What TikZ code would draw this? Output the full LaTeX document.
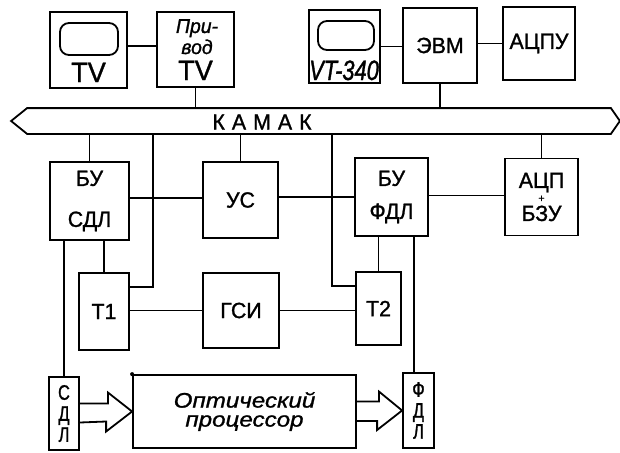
\documentclass[tikz,border=0pt]{standalone}
\usepackage{fontspec}
\setmainfont{Liberation Sans}[FakeStretch=0.97,FakeBold=1.2]
\newfontfamily\narrowfont{Liberation Sans}[FakeStretch=0.78,FakeBold=1.2]
\newfontfamily\widefont{Liberation Sans}[FakeStretch=1.15,FakeBold=1.2]
\begin{document}
\begin{tikzpicture}[x=1pt,y=-1pt,line width=1.8pt,
  blk/.style 2 args={draw,minimum width=#1,minimum height=#2,inner sep=0pt,
    align=center,font=\fontsize{22}{23}\selectfont},
  bigtxt/.style={font=\fontsize{28}{28}\selectfont},
  vtxt/.style={font=\narrowfont\fontsize{21}{21}\selectfont}]
\useasboundingbox (0,0) rectangle (620,452);

% upper row
\node[blk={77}{76}] (tv) at (88.5,50) {};
\draw[rounded corners=9pt] (60,23) rectangle (118,55);
\node[bigtxt,anchor=base] (tvname) at (88.5,82) {TV};
\node[blk={77}{75}] (priv) at (195.5,49.5) {};
\node[font=\itshape\fontsize{20}{20}\selectfont,anchor=base,align=center]
  (privname) at (197,54) {При-\\[1pt]вод};
\node[bigtxt,anchor=base] (privtv) at (195.5,80) {TV};
\node[blk={71}{73}] (vt) at (344.5,46.5) {};
\draw[rounded corners=9pt] (318,21) rectangle (374,50);
\node[font=\narrowfont\itshape\fontsize{28}{28}\selectfont,anchor=base]
  (vtname) at (344,80) {VT-340};
\node[blk={74}{75}] (evm) at (440,45.5) {ЭВМ};
\node[blk={72}{73}] (acpu) at (539,43.5) {АЦПУ};

% KAMAK bus
\node[minimum width=582,minimum height=24,inner sep=0pt] (bus) at (319,121) {};
\draw (bus.north west) -- (bus.north east) -- ([xshift=9pt]bus.east)
  -- (bus.south east) -- (bus.south west) -- ([xshift=-16pt]bus.west) -- cycle;
\node[font=\fontsize{22}{22}\selectfont] (kamak) at (262,122)
  {К\kern7pt А\kern7pt М\kern7pt А\kern7pt К};
\coordinate (tapA) at (153,133);
\coordinate (tapB) at (332,133);

% middle row
\node[blk={79}{78}] (busdl) at (89.5,201) {БУ\\[18pt]СДЛ};
\node[blk={75}{76}] (us) at (240.5,200) {УС};
\node[blk={73}{78}] (bufdl) at (391.5,197) {БУ\\[10pt]ФДЛ};
\node[blk={73}{77}] (acp) at (541.5,197)
  {АЦП\\[-9pt]{\fontsize{11}{11}\selectfont +}\\[-4pt]БЗУ};
\node[blk={50}{77}] (t1) at (104,311.5) {Т1};
\node[blk={76}{75}] (gsi) at (241,310.5) {ГСИ};
\node[blk={45}{73}] (t2) at (378.5,308.5) {Т2};

% lower row
\node[blk={30}{73},vtxt] (sdl) at (64,413.5) {С\\Д\\Л};
\node[blk={223}{73},font=\widefont\itshape\fontsize{21}{19}\selectfont]
  (opt) at (244.5,411.5) {Оптический\\процессор};
\node[blk={31}{75},vtxt] (fdl) at (418.5,410.5) {Ф\\Д\\Л};
\fill (opt.north west) circle (2);

% connections
\draw ([yshift=4pt]tv.east) -- ([yshift=4pt]tv.east -| priv.west);
\draw (priv.south) -- (priv.south |- bus.north);
\draw (vt.east) -- (vt.east -| evm.west);
\draw (acpu.west) -- (acpu.west -| evm.east);
\draw (evm.south) -- (evm.south |- bus.north);
\draw (busdl.north) -- (busdl.north |- bus.south);
\draw (tapA) |- ([yshift=24.5pt]t1.east);
\draw (us.north) -- (us.north |- bus.south);
\draw (tapB) |- ([yshift=22.5pt]t2.west);
\draw (acp.north) -- (acp.north |- bus.south);
\draw ([yshift=3pt]busdl.east) -- ([yshift=3pt]busdl.east -| us.west);
\draw (bufdl.west) -- (bufdl.west -| us.east);
\draw ([yshift=1.5pt]acp.west) -- ([yshift=1.5pt]acp.west -| bufdl.east);
\draw (t1.north) -- (t1.north |- busdl.south);
\draw (sdl.north) -- (sdl.north |- busdl.south);
\draw (gsi.west) -- (gsi.west -| t1.east);
\draw (gsi.east) -- (gsi.east -| t2.west);
\draw (t2.north) -- (t2.north |- bufdl.south);
\draw ([xshift=-4.5pt]fdl.north) -- ([xshift=-4.5pt]fdl.north |- bufdl.south);

% hollow arrows
\draw ([yshift=10pt]sdl.east) -- ++(28,0) -- ++(0,-11) -- (opt.west)
  -- ++(-26,20) -- ++(0,-10) -- ([yshift=-9pt]sdl.east);
\draw ([yshift=10pt]opt.east) -- ++(22,0) -- ++(0,-10) -- (fdl.west)
  -- ++(-25,19.5) -- ++(0,-9) -- ([yshift=-9.5pt]opt.east);
\end{tikzpicture}
\end{document}
